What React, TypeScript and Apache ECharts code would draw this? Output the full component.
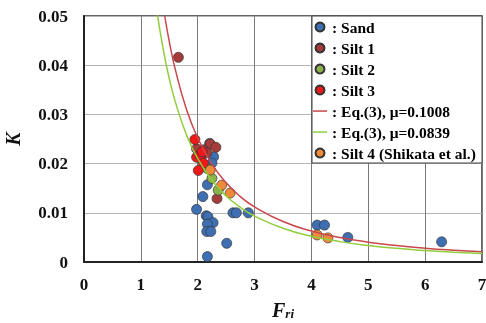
import React, { useEffect, useRef } from "react";
import * as echarts from "echarts";

const xTicks = [0, 1, 2, 3, 4, 5, 6, 7];
const yTicks = [0, 0.01, 0.02, 0.03, 0.04, 0.05];

const sand: number[][] = [
  [2.21, 0.0241], [2.28, 0.0214], [2.25, 0.0201], [2.17, 0.0157], [2.09, 0.0133],
  [1.98, 0.0107], [2.15, 0.0094], [2.18, 0.0092], [2.27, 0.008], [2.17, 0.0077],
  [2.16, 0.0062], [2.23, 0.0062], [2.62, 0.01], [2.68, 0.01], [2.89, 0.01],
  [2.51, 0.0038], [2.17, 0.0011], [4.1, 0.0075], [4.23, 0.0075], [4.64, 0.005],
  [6.29, 0.0041],
];
const silt1: number[][] = [
  [1.66, 0.0416], [2.22, 0.024], [2.32, 0.0233], [2.1, 0.0228], [1.98, 0.023],
  [2.16, 0.0222], [2.05, 0.0212], [2.34, 0.0129],
];
const silt2: number[][] = [[2.25, 0.017], [2.36, 0.0146], [2.17, 0.019]];
const silt3: number[][] = [
  [1.95, 0.0249], [1.98, 0.0213], [2.04, 0.0217], [2.1, 0.0201], [2.01, 0.0186], [2.08, 0.0224],
];
const silt4: number[][] = [[2.22, 0.0187], [2.42, 0.0156], [2.57, 0.014], [4.1, 0.0055], [4.29, 0.0049]];

// Eq.(3) curves, values
const eqRed: number[][] = [
  [1.42, 0.05], [1.5, 0.0448], [1.6, 0.0394], [1.8, 0.0311], [2, 0.0252], [2.25, 0.0199],
  [2.5, 0.0161], [2.75, 0.0133], [3, 0.0112], [3.5, 0.00823], [4, 0.0063], [4.5, 0.00498],
  [5, 0.00403], [5.5, 0.00333], [6, 0.0028], [6.5, 0.00239], [7, 0.00206],
];
const eqGreen: number[][] = [
  [1.29, 0.0504], [1.4, 0.0428], [1.5, 0.0373], [1.6, 0.0328], [1.8, 0.0259], [2, 0.021],
  [2.25, 0.0166], [2.5, 0.0134], [2.75, 0.0111], [3, 0.00932], [3.5, 0.00685], [4, 0.00524],
  [4.5, 0.00414], [5, 0.00336], [5.5, 0.00277], [6, 0.00233], [6.5, 0.00199], [7, 0.00171],
];

const names = [
  "Sand", "Silt 1", "Silt 2", "Silt 3", "Eq.(3), μ=0.1008", "Eq.(3), μ=0.0839", "Silt 4 (Shikata et al.)",
];

const serif = "'Liberation Serif', 'Times New Roman', serif";
const lineIcon = "path://M0,0L0,0M0,3.8L14,3.8L14,5.3L0,5.3ZM14,9L14,9";

export default function App() {
  const ref = useRef<HTMLDivElement>(null);
  useEffect(() => {
    if (!ref.current) return;
    const chart = echarts.init(ref.current, null, { renderer: "svg" });
    const scatter = (name: string, data: number[][], color: string) => ({
      type: "scatter",
      name,
      data,
      symbolSize: 10,
      itemStyle: { color, borderColor: "#333", borderWidth: 0.7, opacity: 1 },
    });
    const line = (name: string, data: number[][], color: string) => ({
      type: "line",
      name,
      data,
      smooth: true,
      symbol: "none",
      showSymbol: false,
      lineStyle: { color, width: 1.5 },
      itemStyle: { color },
      clip: true,
    });
    chart.setOption({
      animation: false,
      grid: {
        left: 84, right: 4, top: 16, bottom: 61,
        outerBoundsMode: "none",
        containLabel: false,
        show: true, borderColor: "#333", borderWidth: 1.5, backgroundColor: "transparent",
      },
      graphic: [
        {
          type: "rect", z: 3,
          shape: { x: 312, y: 16, width: 170, height: 147 },
          style: { fill: "#fff", stroke: "#444", lineWidth: 1 },
        },
      ],
      legend: {
        orient: "vertical",
        left: 313, top: 16.5,
        padding: 0,
        itemGap: 0,
        itemWidth: 14,
        itemHeight: 9,
        z: 5,
        data: names.map((n, i) =>
          i === 4 || i === 5
            ? { name: n, icon: lineIcon, itemStyle: { color: i === 4 ? "#c9474a" : "#92cd3c", borderWidth: 0 } }
            : { name: n, icon: "circle" }
        ),
        formatter: (n: string) => ": " + n,
        textStyle: { fontFamily: serif, fontWeight: "bold", fontSize: 15.5, color: "#000", lineHeight: 21 },
      },
      xAxis: {
        type: "value",
        min: xTicks[0], max: xTicks[xTicks.length - 1], interval: 1,
        name: "{f|F}{s|ri}",
        nameLocation: "middle",
        nameGap: 38,
        nameTextStyle: {
          rich: {
            f: { fontFamily: serif, fontWeight: "bold", fontStyle: "italic", fontSize: 20, lineHeight: 20, verticalAlign: "top", color: "#111" },
            s: { fontFamily: serif, fontWeight: "bold", fontStyle: "italic", fontSize: 13, lineHeight: 13, padding: [7, 0, 0, 0], verticalAlign: "top", color: "#111" },
          },
        },
        axisLine: { show: true, lineStyle: { color: "#222", width: 2 } },
        axisTick: { show: false },
        axisLabel: { fontFamily: serif, fontWeight: "bold", fontSize: 17, color: "#111", margin: 14 },
        splitLine: { show: true, lineStyle: { color: "#7a7a7a", width: 1 } },
      },
      yAxis: {
        type: "value",
        min: yTicks[0], max: yTicks[yTicks.length - 1], interval: 0.01,
        name: "K",
        nameLocation: "middle",
        nameRotate: 90,
        nameGap: 61,
        nameTextStyle: { fontFamily: serif, fontWeight: "bold", fontStyle: "italic", fontSize: 20, color: "#111" },
        axisLine: { show: true, lineStyle: { color: "#222", width: 2 } },
        axisTick: { show: false },
        axisLabel: {
          fontFamily: serif, fontWeight: "bold", fontSize: 17, color: "#111", margin: 16,
          formatter: (v: number) => (v === 0 ? "0" : v.toFixed(2)),
        },
        splitLine: { show: true, lineStyle: { color: "#b5b5b5", width: 1 } },
      },
      series: [
        scatter(names[0], sand, "#3f6fb3"),
        scatter(names[1], silt1, "#a63c3a"),
        scatter(names[2], silt2, "#8cb04a"),
        scatter(names[3], silt3, "#f01818"),
        line(names[4], eqRed, "#c9474a"),
        line(names[5], eqGreen, "#92cd3c"),
        scatter(names[6], silt4, "#ee8a3a"),
      ],
    });
    return () => chart.dispose();
  }, []);
  return (
    <div
      ref={ref}
      style={{ position: "fixed", left: 0, top: 0, width: 486, height: 323 }}
    />
  );
}
